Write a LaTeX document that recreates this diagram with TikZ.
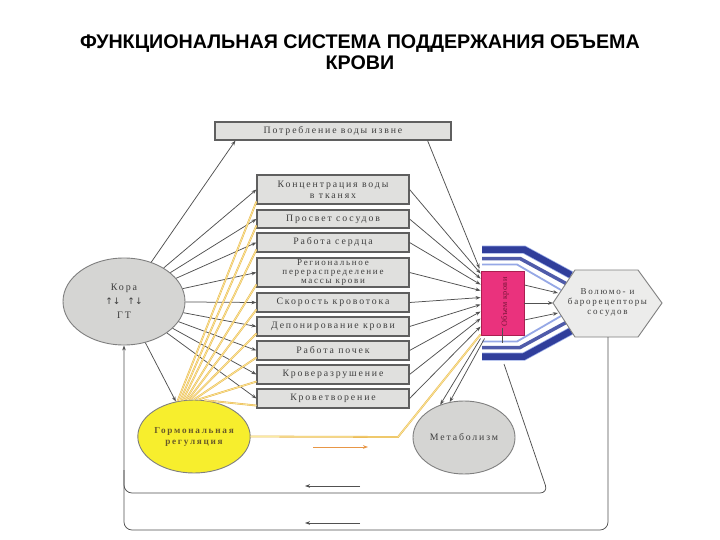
\documentclass[tikz,border=0pt]{standalone}
\usepackage{fontspec}
\setmainfont{Liberation Serif}
\newfontfamily\titlefont{Liberation Sans}
\newfontfamily\boxfont[LetterSpace=19]{Liberation Serif}
\newfontfamily\pinkfont[LetterSpace=5]{Liberation Serif}
\newfontfamily\symfont{DejaVu Sans}
\usetikzlibrary{arrows.meta,shapes.geometric,calc}
\definecolor{boxfill}{RGB}{224,224,222}
\definecolor{boxline}{RGB}{95,95,95}
\definecolor{txt}{RGB}{62,62,62}
\definecolor{pinkc}{RGB}{234,50,125}
\definecolor{pinkd}{RGB}{170,30,80}
\definecolor{navy}{RGB}{48,62,155}
\definecolor{lblue}{RGB}{150,168,230}
\definecolor{yel}{RGB}{247,238,45}
\definecolor{yline}{RGB}{234,182,80}
\definecolor{ycore}{RGB}{250,236,160}
\definecolor{orangearr}{RGB}{232,150,70}
\definecolor{hormtxt}{RGB}{105,90,40}
\begin{document}
\begin{tikzpicture}[x=1pt,y=-1pt,
  box/.style={draw=boxline, line width=1.1pt, fill=boxfill, minimum width=152pt,
    align=center, font=\boxfont\fontsize{9.8}{11}\selectfont, text=txt, inner sep=1pt},
  oval/.style={draw=boxline!80, line width=0.9pt, ellipse, inner sep=0pt,
    align=center, font=\boxfont\fontsize{9.8}{11}\selectfont, text=txt},
  arr/.style={-{Stealth[length=5pt,width=3.6pt]}, draw=boxline!85!black, line width=0.75pt},
  plain/.style={draw=boxline!85!black, line width=0.75pt},
  yl/.style={draw=yline, line width=0.55pt, double=ycore, double distance=0.7pt},
  bar/.style={line join=miter}
]
\useasboundingbox (0,0) rectangle (720,540);
\fill[white] (0,0) rectangle (720,540);

% title
\node[font=\titlefont\bfseries\fontsize{19.7}{20.5}\selectfont, align=center] (title) at (360,52)
  {ФУНКЦИОНАЛЬНАЯ СИСТЕМА ПОДДЕРЖАНИЯ ОБЪЕМА\\КРОВИ};

% boxes
\node[box, minimum width=236pt, minimum height=18pt] (top) at (333,131) {Потребление воды извне};
\node[box, minimum height=29pt] (b1) at (333,189.5) {Концентрация воды\\в тканях};
\node[box, minimum height=18pt] (b2) at (333,219) {Просвет сосудов};
\node[box, minimum height=19pt] (b3) at (333,242.5) {Работа сердца};
\node[box, minimum height=29pt, font=\boxfont\fontsize{9}{8.7}\selectfont] (b4) at (333,272.5) {Региональное\\перераспределение\\массы крови};
\node[box, minimum height=19pt] (b5) at (333,302.5) {Скорость кровотока};
\node[box, minimum height=19pt] (b6) at (333,326.5) {Депонирование крови};
\node[box, minimum height=19pt] (b7) at (333,350.5) {Работа почек};
\node[box, minimum height=19pt] (b8) at (333,374.5) {Кроверазрушение};
\node[box, minimum height=19pt] (b9) at (333,398.5) {Кроветворение};

% ovals
\node[oval, fill=boxfill!95!black, minimum width=122pt, minimum height=87pt,
  font=\boxfont\fontsize{10}{14}\selectfont] (kora) at (124,301.5)
  {Кора\\{\symfont\fontsize{9}{14}\selectfont ↑↓\hspace{7pt}↑↓}\\ГТ};
\node[oval, fill=yel, minimum width=102pt, minimum height=73pt, text=hormtxt,
  font=\boxfont\bfseries\fontsize{9.2}{11}\selectfont] (horm) at (194,436.5)
  {Гормональная\\регуляция};
\node[oval, fill=boxfill!95!black, minimum width=102pt, minimum height=73pt] (metab) at (464,437.5) {Метаболизм};

% blue bars
\draw[bar, lblue, line width=8pt] (482,249.5) -- (524,249.5) -- (571,275);
\draw[bar, navy, line width=6.5pt] (482,249.5) -- (524,249.5) -- (571,275);
\draw[bar, navy!85, line width=3.5pt] (482,258.5) -- (520,258.5) -- (566,283.5);
\draw[bar, lblue, line width=1.8pt] (482,264.5) -- (517,264.5) -- (561,290);
\draw[bar, lblue, line width=8pt] (482,356.5) -- (524,356.5) -- (571,331);
\draw[bar, navy, line width=6.5pt] (482,356.5) -- (524,356.5) -- (571,331);
\draw[bar, navy!85, line width=3.5pt] (482,347.5) -- (520,347.5) -- (566,322.5);
\draw[bar, lblue, line width=1.8pt] (482,341.5) -- (517,341.5) -- (561,316);

% pink box
\node[draw=pinkd, line width=0.9pt, fill=pinkc, minimum width=43pt, minimum height=64pt, inner sep=0pt] (pink) at (502.5,303) {};
\node[rotate=90, font=\pinkfont\fontsize{8.2}{9}\selectfont, text=pinkd!70!black] (pinktxt) at (505,302) {Объем крови};
\coordinate (tickA) at (502,328);
\coordinate (tickB) at (502,343);
\draw[plain] (tickA) -- (tickB);

% hexagon
\draw[draw=boxline!80, line width=0.9pt, fill=boxfill!60] (553,303) -- (575,270) -- (638,270) -- (662,303) -- (638,337) -- (575,337) -- cycle;
\node[align=center, font=\boxfont\fontsize{9}{10}\selectfont, text=txt] (hex) at (607.5,303)
  {Волюмо- и\\барорецепторы\\сосудов};

% Kora arrows
\draw[arr] (kora) -- ([xshift=21pt]top.south west);
\foreach \b in {b1,b2,b3,b4,b5,b6,b7,b8,b9} { \draw[arr] (kora) -- (\b.west); }
\draw[arr] (kora) -- (horm);

% yellow lines from hormonal regulation
\foreach \b/\a in {b1/115,b2/111,b3/107,b4/103,b5/99,b6/95,b7/90,b8/84,b9/74} {
  \draw[yl] (horm.\a) -- ($(\b.south west)+(0,-3)$);
}
\coordinate (hbend) at (398,437);
\draw[yl] (horm.east) -- (hbend) -- ($(pink.south west)+(0,-1)$);

% lines to pink box
\draw[arr] ([xshift=-24pt]top.south east) -- ($(pink.north west)+(-1,-2)$);
\foreach \b/\d in {b1/3,b2/8,b3/14,b4/20,b5/27,b6/34,b7/41,b8/48,b9/56} {
  \draw[arr] (\b.east) -- ($(pink.north west)+(0,\d)$);
}

% pink to hexagon
\coordinate (h1) at (558,293);
\coordinate (h2) at (553,303);
\coordinate (h3) at (558,313);
\draw[arr] ($(pink.east)+(0,-18)$) -- (h1);
\draw[arr] (pink.east) -- (h2);
\draw[arr] ($(pink.east)+(0,17)$) -- (h3);

% pink to metabolism
\draw[arr] ($(pink.south west)+(0,3)$) -- (metab.126);
\draw[arr] ($(pink.south west)+(4,3)$) -- (metab.112);

% feedback loops
\coordinate (loopin) at (504,364);
\coordinate (hexbot) at (608,337);
\draw[plain, rounded corners=8pt] (loopin) -- (548,493) -- (124,493) -- (124,470);
\draw[arr, rounded corners=8pt] (hexbot) -- (608,530) -- (124,530) -- (kora.south);

% small direction arrows
\coordinate (s1a) at (360,486); \coordinate (s1b) at (305,486);
\coordinate (s2a) at (360,523); \coordinate (s2b) at (305,523);
\coordinate (s3a) at (313,447); \coordinate (s3b) at (368,447);
\draw[arr] (s1a) -- (s1b);
\draw[arr] (s2a) -- (s2b);
\draw[arr, draw=orangearr, line width=1pt] (s3a) -- (s3b);
\end{tikzpicture}
\end{document}
